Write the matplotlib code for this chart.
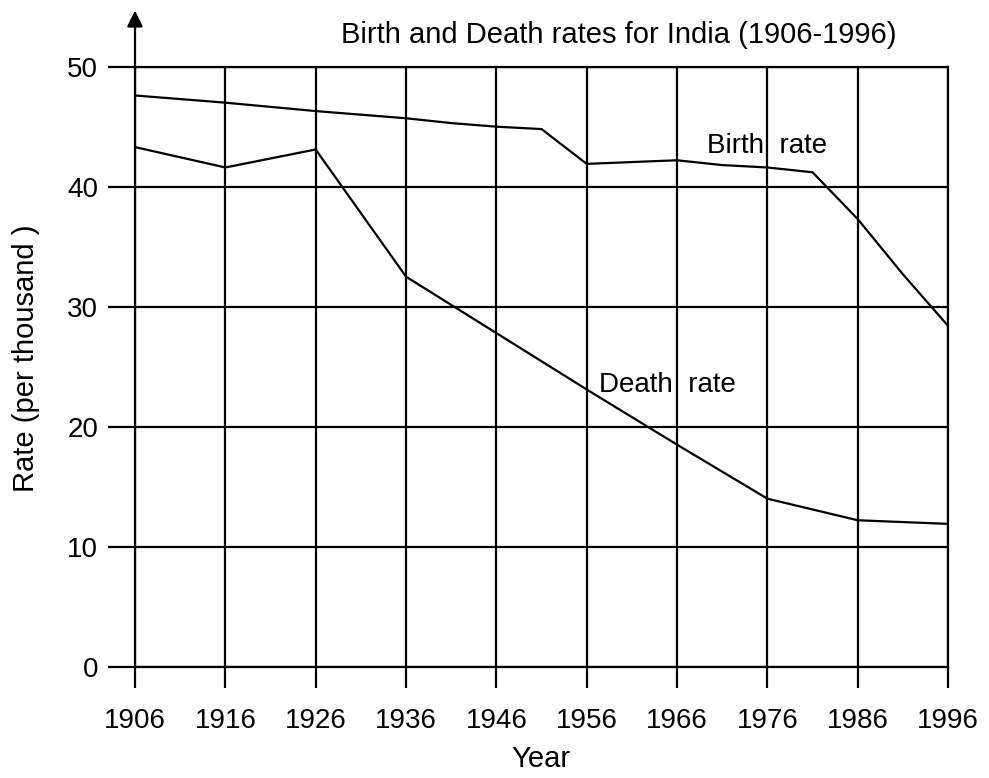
import matplotlib.pyplot as plt

# values
years_birth = [1906, 1916, 1926, 1936, 1941, 1946, 1951, 1956, 1966, 1971, 1976, 1981, 1986, 1991, 1996]
birth_rate = [47.6, 47.0, 46.3, 45.7, 45.3, 45.0, 44.8, 41.9, 42.2, 41.8, 41.6, 41.2, 37.3, 32.7, 28.4]

years_death = [1906, 1916, 1926, 1936, 1946, 1956, 1966, 1976, 1986, 1996]
death_rate = [43.3, 41.6, 43.1, 32.5, 27.8, 23.1, 18.5, 14.0, 12.2, 11.9]

x_ticks = list(range(1906, 1997, 10))
y_ticks = [0, 10, 20, 30, 40, 50]

plt.rcParams['font.family'] = ['Liberation Sans', 'DejaVu Sans']

fig = plt.figure(figsize=(9.89, 7.78), dpi=100)
ax = fig.add_axes([0.1365, 0.1431, 0.8221, 0.7712])

ax.plot(years_birth, birth_rate, color='black', lw=1.6, zorder=3)
ax.plot(years_death, death_rate, color='black', lw=1.6, zorder=3)

ax.set_xlim(1906, 1996)
ax.set_ylim(0, 50)
ax.set_xticks(x_ticks)
ax.set_yticks(y_ticks)
ax.grid(True, color='black', lw=1.6)
ax.set_axisbelow(True)
for s in ax.spines.values():
    s.set_color('black')
    s.set_linewidth(1.6)

ax.tick_params(axis='x', length=15, width=1.6, pad=15, labelsize=20)
ax.tick_params(axis='y', length=19.4, width=1.6, pad=7, labelsize=20)

# arrow on top of the y axis
ax.annotate('', xy=(0, 1.098), xytext=(0, 0.99), xycoords='axes fraction',
            arrowprops=dict(arrowstyle='-|>', color='black', lw=1.6, mutation_scale=24),
            annotation_clip=False)

ax.text(1969.3, 43.4, 'Birth  rate', fontsize=20, ha='left', va='center', zorder=4)
ax.text(1957.4, 23.5, 'Death  rate', fontsize=20, ha='left', va='center', zorder=4)

fig.text(0.626, 0.955, 'Birth and Death rates for India (1906-1996)', fontsize=21,
         ha='center', va='center')
fig.text(0.026, 0.539, 'Rate (per thousand )', fontsize=21, rotation=90,
         ha='center', va='center')
fig.text(0.547, 0.024, 'Year', fontsize=21, ha='center', va='center')

fig.savefig('out.png', dpi=100)
